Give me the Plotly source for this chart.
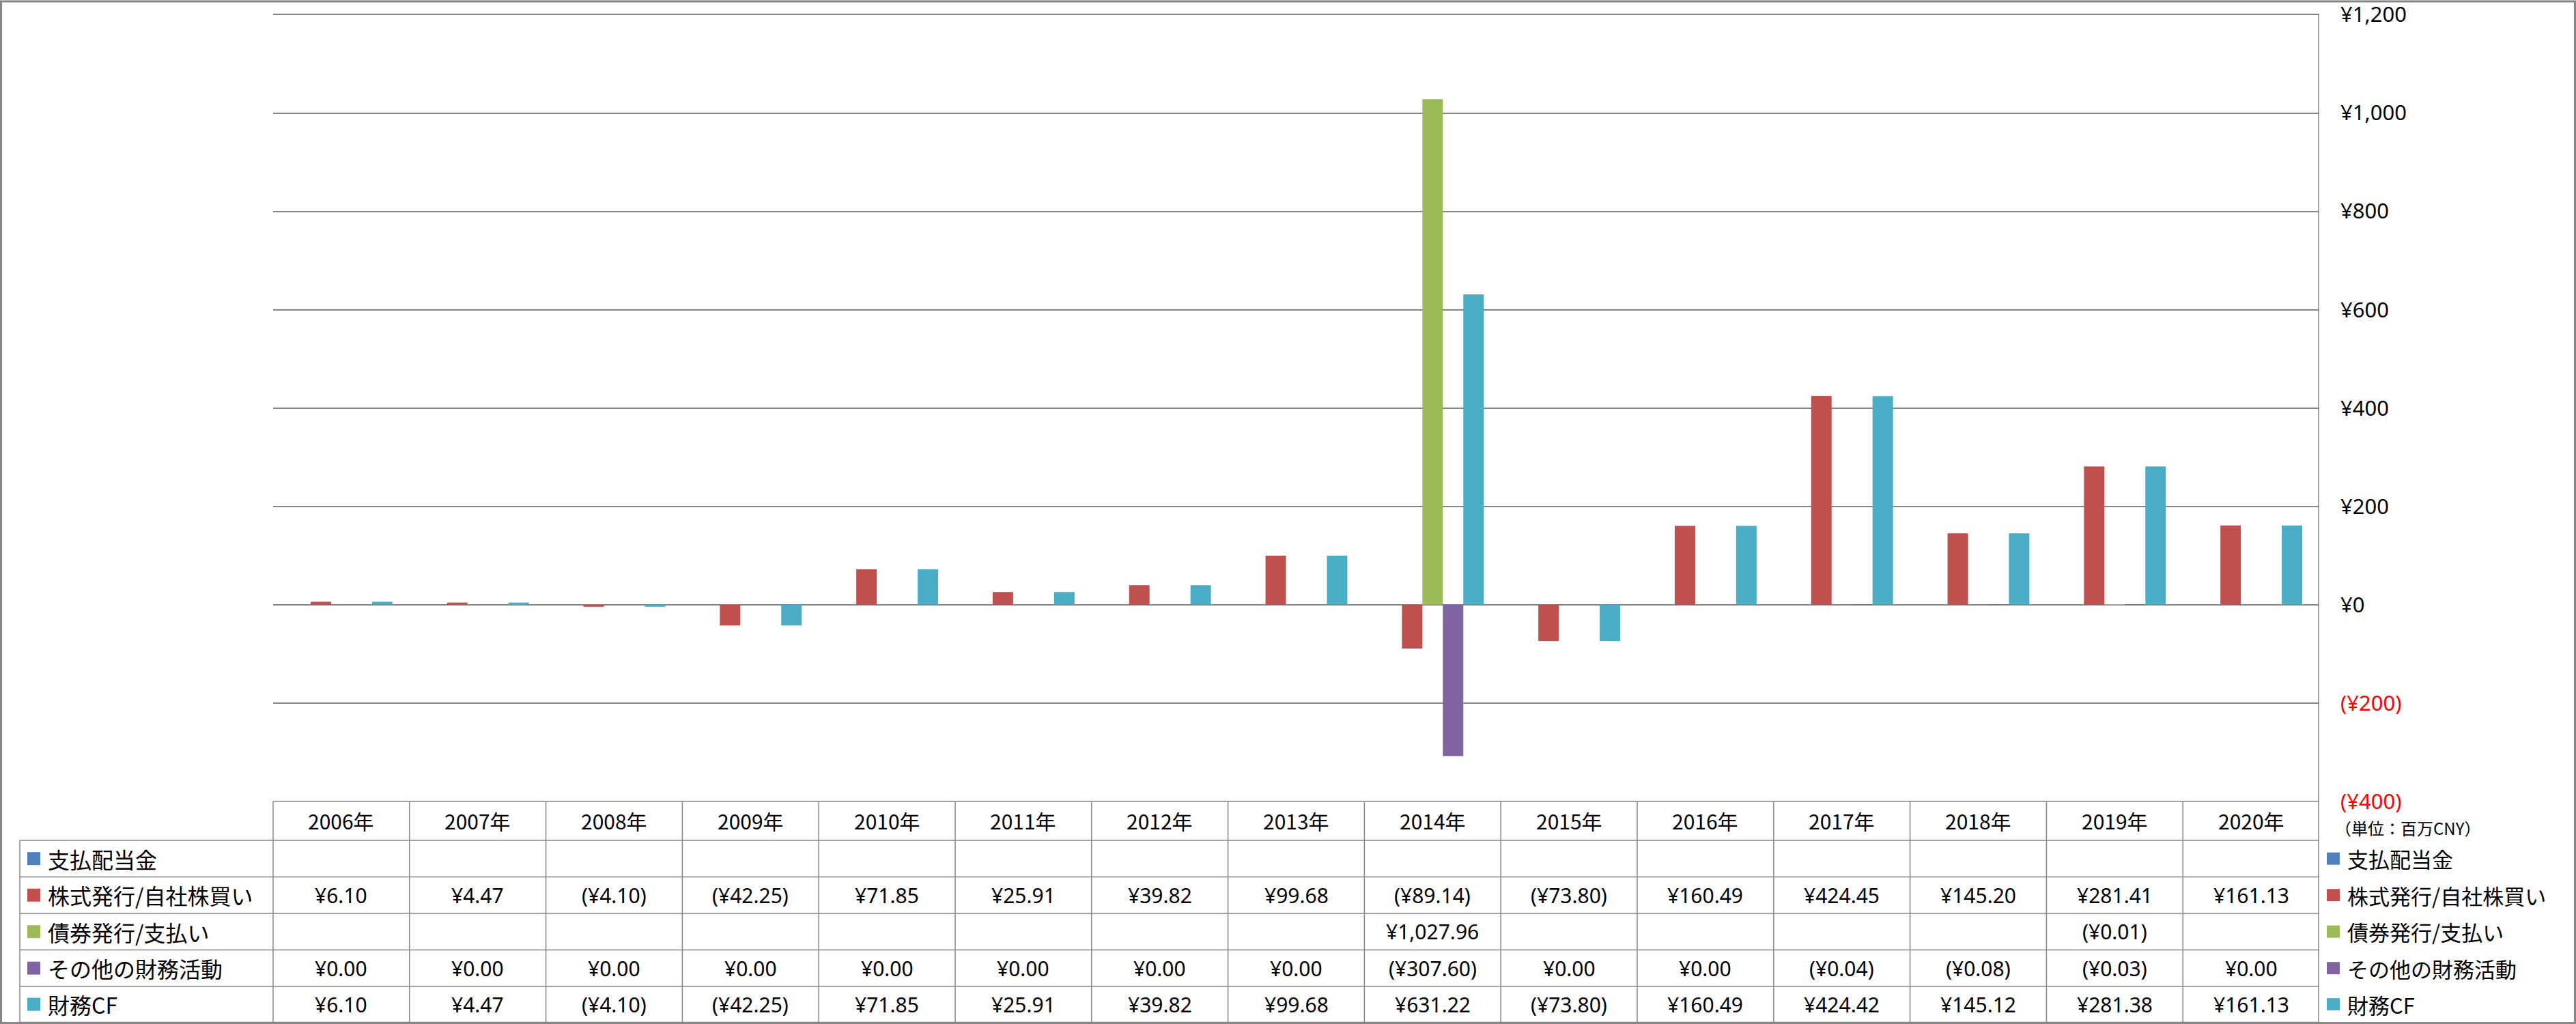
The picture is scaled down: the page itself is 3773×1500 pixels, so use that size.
import plotly.graph_objects as go

# ---------------- data ----------------
years = ["2006年", "2007年", "2008年", "2009年", "2010年", "2011年", "2012年", "2013年",
         "2014年", "2015年", "2016年", "2017年", "2018年", "2019年", "2020年"]

series_names = ["支払配当金", "株式発行/自社株買い", "債券発行/支払い", "その他の財務活動", "財務CF"]

dividends = [None] * 15
equity = [6.10, 4.47, -4.10, -42.25, 71.85, 25.91, 39.82, 99.68,
          -89.14, -73.80, 160.49, 424.45, 145.20, 281.41, 161.13]
bonds = [None, None, None, None, None, None, None, None,
         1027.96, None, None, None, None, -0.01, None]
other = [0.00, 0.00, 0.00, 0.00, 0.00, 0.00, 0.00, 0.00,
         -307.60, 0.00, 0.00, -0.04, -0.08, -0.03, 0.00]
fin_cf = [6.10, 4.47, -4.10, -42.25, 71.85, 25.91, 39.82, 99.68,
          631.22, -73.80, 160.49, 424.42, 145.12, 281.38, 161.13]

y_tickvals = [1200, 1000, 800, 600, 400, 200, 0, -200, -400]
y_ticktext = ["¥1,200", "¥1,000", "¥800", "¥600", "¥400", "¥200", "¥0", "(¥200)", "(¥400)"]
unit_label = "（単位：百万CNY）"

colors = ["#4F81BD", "#C0504D", "#9BBB59", "#8064A2", "#4BACC6"]
all_series = [dividends, equity, bonds, other, fin_cf]

# ---------------- layout geometry (page pixels) ----------------
W, H = 3773, 1500

X_LEFT, X_RIGHT = 400, 3397   # plot area in page pixels
Y_1200, Y_M400 = 21, 1174     # pixel rows of the 1200 and -400 gridlines
Y_MIN, Y_MAX = -400, 1202     # a little headroom so the top gridline is kept
unit_px = (Y_M400 - Y_1200) / (1200 - (-400))
Y_TOP = Y_1200 - (Y_MAX - 1200) * unit_px

L = X_LEFT
R = W - X_RIGHT
T = Y_TOP
B = H - Y_M400
PW = X_RIGHT - X_LEFT
PH = Y_M400 - Y_TOP
GRID = "#868686"


def px(x):
    return (x - X_LEFT) / PW


def py(y):
    return (Y_M400 - y) / PH


def fmt(v):
    if v is None:
        return ""
    s = "¥{:,.2f}".format(abs(v))
    return "(" + s + ")" if v < 0 else s


fig = go.Figure()

for i, (name, vals, col) in enumerate(zip(series_names, all_series, colors)):
    fig.add_trace(go.Bar(
        x=years, y=vals, name=name, marker_color=col, marker_line_width=0,
        width=0.15, offset=-0.375 + 0.15 * i, showlegend=False,
    ))

shapes = []
annotations = []

# outer border (figure edges)
shapes.append(dict(type="rect", xref="paper", yref="paper",
                   x0=px(1.5), x1=px(W - 1.5), y0=py(H - 1.5), y1=py(1.5),
                   line=dict(color=GRID, width=3), layer="above"))

# table geometry
header_top, header_bot = 1174, 1231
row_edges = [1231, 1284.5, 1338, 1391.5, 1445, 1497.5]
left_x = 29

# horizontal lines
shapes.append(dict(type="line", xref="paper", yref="paper",
                   x0=px(X_LEFT), x1=px(X_RIGHT), y0=py(header_top), y1=py(header_top),
                   line=dict(color=GRID, width=1.5)))
for ye in row_edges:
    shapes.append(dict(type="line", xref="paper", yref="paper",
                       x0=px(left_x), x1=px(X_RIGHT), y0=py(ye), y1=py(ye),
                       line=dict(color=GRID, width=1.5)))
# vertical lines
shapes.append(dict(type="line", xref="paper", yref="paper",
                   x0=px(left_x), x1=px(left_x), y0=py(header_bot), y1=py(row_edges[-1]),
                   line=dict(color=GRID, width=1.5)))
shapes.append(dict(type="line", xref="paper", yref="paper",
                   x0=px(X_LEFT), x1=px(X_LEFT), y0=py(header_top), y1=py(row_edges[-1]),
                   line=dict(color=GRID, width=1.5)))
for k in range(len(years) - 1):
    shapes.append(dict(type="line", xref="x", yref="paper",
                       x0=k + 0.5, x1=k + 0.5, y0=py(header_top), y1=py(row_edges[-1]),
                       line=dict(color=GRID, width=1.5)))
# right axis line extending through table
shapes.append(dict(type="line", xref="paper", yref="paper",
                   x0=px(X_RIGHT - 1), x1=px(X_RIGHT - 1), y0=py(Y_1200), y1=py(row_edges[-1]),
                   line=dict(color=GRID, width=1.5)))

# header row
for yr in years:
    annotations.append(dict(x=yr, xref="x", y=py((header_top + header_bot) / 2), yref="paper",
                            text=yr, showarrow=False, xanchor="center", yanchor="middle",
                            font=dict(family="Noto Sans CJK JP", size=30, color="black")))

# data rows + left legend column + right legend
for r, (name, vals, col) in enumerate(zip(series_names, all_series, colors)):
    yc = (row_edges[r] + row_edges[r + 1]) / 2
    for yr, v in zip(years, vals):
        t = fmt(v)
        if t:
            annotations.append(dict(x=yr, xref="x", y=py(yc), yref="paper", text=t,
                                    showarrow=False, xanchor="center", yanchor="middle",
                                    font=dict(family="Noto Sans", size=30, color="black")))
    # left column key
    shapes.append(dict(type="rect", xref="paper", yref="paper",
                       x0=px(40), x1=px(59), y0=py(yc - 9.5), y1=py(yc + 9.5),
                       fillcolor=col, line=dict(width=0)))
    annotations.append(dict(x=px(68), xref="paper", y=py(yc), yref="paper", text=name,
                            showarrow=False, xanchor="left", yanchor="middle",
                            font=dict(family="Noto Sans CJK JP", size=32, color="black")))
    # right legend
    shapes.append(dict(type="rect", xref="paper", yref="paper",
                       x0=px(3408), x1=px(3427), y0=py(yc - 9), y1=py(yc + 9),
                       fillcolor=col, line=dict(width=0)))
    annotations.append(dict(x=px(3436), xref="paper", y=py(yc), yref="paper", text=name,
                            showarrow=False, xanchor="left", yanchor="middle",
                            font=dict(family="Noto Sans CJK JP", size=31, color="black")))

annotations.append(dict(x=px(3418), xref="paper", y=py(1213), yref="paper", text=unit_label,
                        showarrow=False, xanchor="left", yanchor="middle",
                        font=dict(family="Noto Sans CJK JP", size=24, color="black")))

ticktext_colored = [
    '<span style="color:#FF0000">' + t + "</span>" if v < 0 else t
    for v, t in zip(y_tickvals, y_ticktext)
]

fig.update_layout(
    width=W, height=H,
    margin=dict(l=L, r=R, t=T, b=B, pad=0, autoexpand=False),
    paper_bgcolor="white", plot_bgcolor="white",
    barmode="overlay",
    showlegend=False,
    shapes=shapes,
    annotations=annotations,
    xaxis=dict(type="category", categoryorder="array", categoryarray=years,
               range=[-0.5, len(years) - 0.5], showticklabels=False, showgrid=False,
               zeroline=False, showline=False, ticks=""),
    yaxis=dict(side="right", range=[Y_MIN, Y_MAX], tickvals=y_tickvals, ticktext=ticktext_colored,
               showgrid=True, gridcolor=GRID, gridwidth=1.5,
               zeroline=True, zerolinecolor=GRID, zerolinewidth=1.5,
               showline=False, ticks="", ticklabelstandoff=30, ticklabeloverflow="allow",
               tickfont=dict(family="Noto Sans", size=31, color="black")),
)

fig.write_html(
    "out.html",
    config={"displayModeBar": False},
    post_script="document.body.style.margin='0';document.body.style.overflow='hidden';",
)
